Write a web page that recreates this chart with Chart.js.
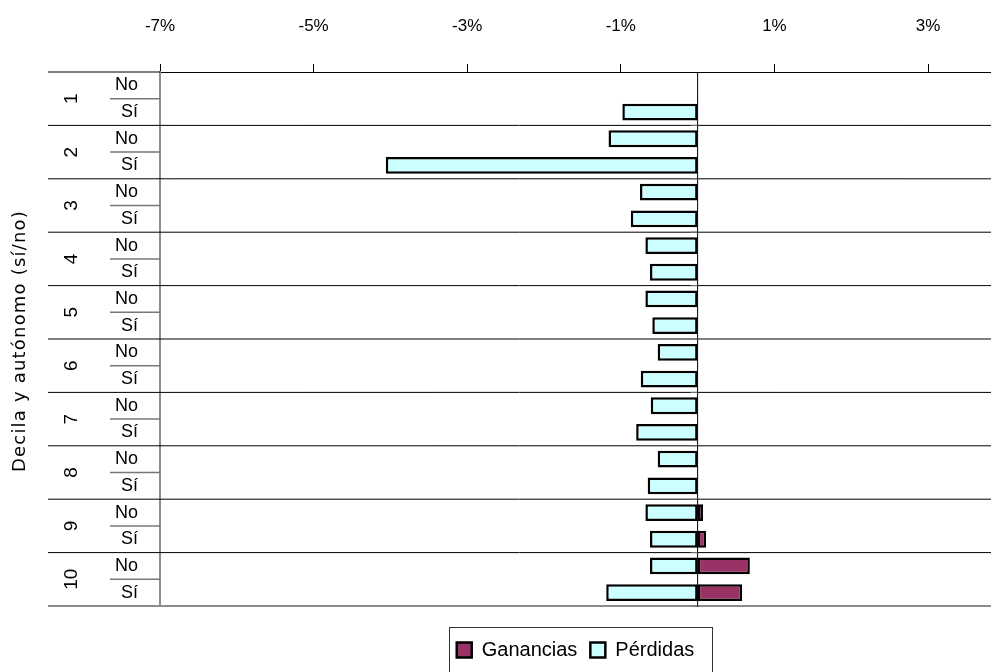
<!DOCTYPE html>
<html>
<head>
<meta charset="utf-8">
<script src="https://cdn.jsdelivr.net/npm/chart.js@4"></script>
<style>
  body { margin: 0; background: #fff; }
  #wrap { width: 991px; height: 672px; }
</style>
</head>
<body>
<div id="wrap"><canvas id="grafico" width="991" height="672"></canvas></div>
<script>
const deciles = ["1", "2", "3", "4", "5", "6", "7", "8", "9", "10"];
const autonomo = ["No", "Sí"];
const tickValues = [-7, -5, -3, -1, 1, 3];

// % de cambio por decila y autónomo (No, Sí alternados)
const ganancias = [
  null, null, null, null, null, null, null, null, null, null,
  null, null, null, null, null, null, 0.07, 0.11, 0.68, 0.58,
];
const perdidas = [
  null, -0.98, -1.16, -4.06, -0.75, -0.87, -0.68, -0.62, -0.68, -0.59,
  -0.52, -0.74, -0.61, -0.8, -0.52, -0.65, -0.68, -0.62, -0.62, -1.19,
];

const etiquetas = [];
deciles.forEach(() => autonomo.forEach((a) => etiquetas.push(a)));

Chart.defaults.font.family = "'Liberation Sans', Arial, sans-serif";
Chart.defaults.color = "#000";

/*********************LINEAS Y ETIQUETAS DE DECILA*********************/
const decorado = {
  id: "decorado",
  beforeDatasetsDraw(chart) {
    const { ctx, chartArea: a, scales } = chart;
    const x = scales.x;
    const y = scales.y;
    const medio = (y.getPixelForValue(1) - y.getPixelForValue(0)) / 2;
    const x0 = x.getPixelForValue(0);
    ctx.save();
    const linea = (x1, y1, x2, y2) => {
      ctx.beginPath();
      ctx.moveTo(x1, y1);
      ctx.lineTo(x2, y2);
      ctx.stroke();
    };
    // separadores entre decilas
    ctx.strokeStyle = "#000";
    ctx.lineWidth = 1;
    linea(48, a.top, a.left, a.top);
    deciles.forEach((d, i) => {
      const arriba = y.getPixelForValue(i * 2) - medio;
      if (i > 0) linea(48, arriba, a.right, arriba);
    });
    // separador No / Sí
    ctx.strokeStyle = "#777";
    ctx.lineWidth = 1.5;
    deciles.forEach((d, i) => {
      const mid = y.getPixelForValue(i * 2) + medio;
      linea(110, mid, a.left, mid);
    });
    // linea inferior
    ctx.strokeStyle = "#8c8c8c";
    ctx.lineWidth = 2;
    linea(48, a.bottom, a.right, a.bottom);
    // eje en cero
    ctx.strokeStyle = "#000";
    ctx.lineWidth = 1;
    linea(x0, a.top, x0, a.bottom + 1);
    ctx.strokeStyle = "#777";
    deciles.forEach((d, i) => {
      const abajo = y.getPixelForValue(i * 2 + 1) + medio;
      linea(x0 - 7, abajo, x0, abajo);
    });
    ctx.restore();
  },
  afterDraw(chart) {
    const { ctx, chartArea: a, scales, legend } = chart;
    const y = scales.y;
    ctx.save();
    ctx.fillStyle = "#000";
    ctx.textAlign = "center";
    ctx.textBaseline = "middle";
    // numero de decila girado
    ctx.font = "19px 'Liberation Sans', Arial, sans-serif";
    deciles.forEach((d, i) => {
      const yc = (y.getPixelForValue(i * 2) + y.getPixelForValue(i * 2 + 1)) / 2;
      ctx.save();
      ctx.translate(72, yc);
      ctx.rotate(-Math.PI / 2);
      ctx.fillText(d, 0, 0);
      ctx.restore();
    });
    // titulo del eje
    ctx.save();
    ctx.translate(20, (a.top + a.bottom) / 2 + 2);
    ctx.rotate(-Math.PI / 2);
    ctx.font = "18px 'DejaVu Sans', sans-serif";
    ctx.letterSpacing = "1.2px";
    ctx.fillText("Decila y autónomo (sí/no)", 0, 0);
    ctx.restore();
    // marco de la leyenda
    const hb = legend.legendHitBoxes;
    if (hb.length) {
      const izq = hb[0].left - 8;
      const der = hb[hb.length - 1].left + hb[hb.length - 1].width + 17;
      ctx.strokeStyle = "#333";
      ctx.lineWidth = 1;
      ctx.strokeRect(Math.round(izq) + 0.5, legend.top + 21.5, Math.round(der - izq), 80);
    }
    ctx.restore();
  },
};

let canvas = document.getElementById("grafico").getContext("2d");
let grafico = new Chart(canvas, {
  type: "bar",
  data: {
    labels: etiquetas,
    datasets: [
      {
        label: "Ganancias",
        data: ganancias,
        backgroundColor: "#993366",
        borderColor: "#000",
        borderWidth: 2.5,
        borderSkipped: false,
      },
      {
        label: "Pérdidas",
        data: perdidas,
        backgroundColor: "#ccffff",
        borderColor: "#000",
        borderWidth: 2.5,
        borderSkipped: false,
      },
    ],
  },
  options: {
    indexAxis: "y",
    responsive: false,
    animation: false,
    layout: { padding: { left: 0, right: 0, top: 0, bottom: 2 } },
    datasets: {
      bar: { barPercentage: 0.63, categoryPercentage: 1 },
    },
    scales: {
      x: {
        position: "top",
        stacked: true,
        min: -7,
        max: 3.82,
        afterBuildTicks: (s) => {
          s.ticks = tickValues.map((v) => ({ value: v }));
        },
        afterFit: (s) => {
          s.height = 72;
        },
        grid: {
          drawOnChartArea: false,
          tickLength: 8,
          tickColor: "#000",
        },
        border: { color: "#000", width: 1 },
        ticks: {
          padding: 27,
          maxRotation: 0,
          autoSkip: false,
          font: { size: 17 },
          callback: (v) => v + "%",
        },
      },
      y: {
        stacked: true,
        afterFit: (s) => {
          s.width = 160;
        },
        grid: { color: "transparent", drawTicks: false },
        border: { color: "#8c8c8c", width: 2 },
        ticks: {
          padding: 22,
          autoSkip: false,
          font: { size: 18 },
        },
      },
    },
    plugins: {
      legend: {
        position: "bottom",
        fullSize: false,
        title: {
          display: true,
          text: "",
          padding: { top: 11, bottom: 0 },
          font: { size: 10, lineHeight: 1 },
        },
        labels: {
          boxWidth: 15,
          boxHeight: 15,
          padding: 13,
          color: "#000",
          font: { size: 20 },
        },
      },
      tooltip: { enabled: false },
    },
  },
  plugins: [decorado],
});
</script>
</body>
</html>
